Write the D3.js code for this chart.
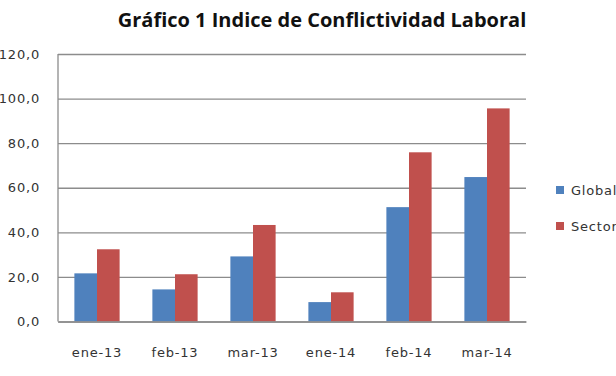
<!DOCTYPE html>
<html>
<head>
<meta charset="utf-8">
<script src="https://cdn.jsdelivr.net/npm/d3@7"></script>
<style>
  body { margin: 0; background: #fff; }
  svg { display: block; }
  .axis text { font-family: "DejaVu Sans", sans-serif; font-size: 13px; letter-spacing: 0.8px; fill: #333; }
</style>
</head>
<body>
<div id="chart"></div>
<script>
// data
const categories = ['ene-13', 'feb-13', 'mar-13', 'ene-14', 'feb-14', 'mar-14'];
const seriesNames = ['Global', 'Sector'];
const globalValues = [21.6, 14.4, 29.2, 8.7, 51.3, 64.8];
const sectorValues = [32.4, 21.2, 43.3, 13.1, 75.9, 95.6];
const yTicks = [0, 20, 40, 60, 80, 100, 120];
const colors = ['#4F81BD', '#C0504D'];

const width = 616, height = 376;
const margin = {t:54, r:90, b:54.5, l:58};
const w = width - margin.l - margin.r;
const h = height - margin.t - margin.b;

const svg = d3.select('#chart').append('svg')
    .attr('width', width)
    .attr('height', height);

// title
svg.append('text')
    .attr('x', 322)
    .attr('y', 27)
    .attr('text-anchor', 'middle')
    .style('font-family', '"Open Sans", sans-serif')
    .style('font-weight', 'bold')
    .style('font-size', '20px')
    .style('fill', '#111')
    .text('Gráfico 1 Indice de Conflictividad Laboral');

const plot = svg.append('g')
    .attr('transform', `translate(${margin.l},${margin.t})`);

// scales
const scaleX = d3.scaleBand()
    .domain(categories)
    .range([0, w])
    .paddingInner(0.42)
    .paddingOuter(0.21);
const scaleSeries = d3.scaleBand()
    .domain(seriesNames)
    .range([0, scaleX.bandwidth()]);
const scaleY = d3.scaleLinear()
    .domain([0, 120])
    .range([h, 0]);

// gridlines
const axisY = d3.axisLeft(scaleY)
    .tickValues(yTicks)
    .tickSize(-w)
    .tickPadding(18)
    .tickFormat(d => d3.format('.1f')(d).replace('.', ','));
const gy = plot.append('g')
    .attr('class', 'axis axis-y')
    .call(axisY);
gy.select('.domain').remove();
gy.selectAll('.tick line')
    .attr('stroke', '#8c8c8c')
    .attr('stroke-width', 1.3);

// left axis line
plot.append('line')
    .attr('x1', 0).attr('x2', 0)
    .attr('y1', 0).attr('y2', h)
    .attr('stroke', '#8c8c8c')
    .attr('stroke-width', 1.3);

// bars
const rows = categories.map((c, i) => ({cat: c, values: [globalValues[i], sectorValues[i]]}));
const groups = plot.selectAll('.grp')
    .data(rows)
    .enter().append('g')
    .attr('class', 'grp')
    .attr('transform', d => `translate(${scaleX(d.cat)},0)`);
groups.selectAll('rect')
    .data(d => d.values.map((v, k) => ({name: seriesNames[k], v: v, k: k})))
    .enter().append('rect')
    .attr('x', d => scaleSeries(d.name))
    .attr('width', scaleSeries.bandwidth())
    .attr('y', d => scaleY(d.v))
    .attr('height', d => h - scaleY(d.v))
    .attr('fill', d => colors[d.k]);

// x axis
const axisX = d3.axisBottom(scaleX)
    .tickSize(0)
    .tickPadding(26);
const gx = plot.append('g')
    .attr('class', 'axis axis-x')
    .attr('transform', `translate(0,${h})`)
    .call(axisX);
gx.select('.domain')
    .attr('stroke', '#8c8c8c')
    .attr('stroke-width', 1.3);

// legend
const legend = svg.append('g')
    .attr('transform', 'translate(556,186)');
const items = legend.selectAll('g')
    .data(seriesNames)
    .enter().append('g')
    .attr('transform', (d, i) => `translate(0,${i * 36})`);
items.append('rect')
    .attr('width', 8).attr('height', 8)
    .attr('fill', (d, i) => colors[i]);
items.append('text')
    .attr('x', 15)
    .attr('y', 9)
    .style('font-family', '"DejaVu Sans", sans-serif')
    .style('font-size', '13px')
    .style('letter-spacing', '0.8px')
    .style('fill', '#333')
    .text(d => d);
</script>
</body>
</html>
